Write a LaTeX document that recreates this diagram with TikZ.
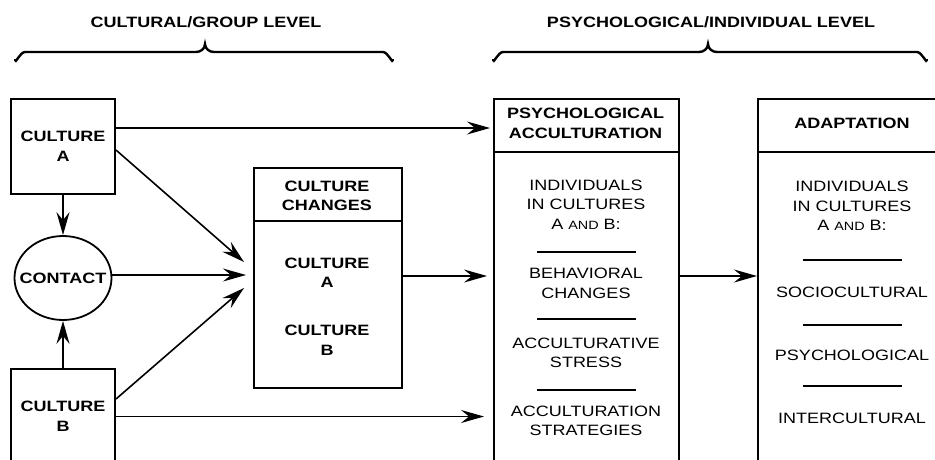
\documentclass[tikz,border=0pt]{standalone}
\usepackage{fontspec}
\setmainfont[FakeStretch=1.2]{Liberation Sans}
\usetikzlibrary{arrows.meta,shapes.geometric}
\tikzset{
  box/.style={draw, line width=2pt, inner sep=0pt, anchor=north west},
  txt/.style={align=center, inner sep=0pt, font=\fontsize{15}{19.5}\selectfont},
  btxt/.style={txt, font=\fontsize{15}{19.5}\selectfont\bfseries},
  ttl/.style={inner sep=0pt, font=\fontsize{15}{19}\selectfont\bfseries},
  arr/.style={line width=1.6pt, -{Stealth[length=23pt,width=13pt,inset=8pt]}},
  sep/.style={line width=1.6pt},
  brace/.style={line width=2.4pt, line cap=round}
}
\newcommand{\smc}[1]{{\fontsize{12}{19.5}\selectfont #1}}
\begin{document}
\begin{tikzpicture}[x=1pt,y=-1pt]
\useasboundingbox (0,0) rectangle (935,459);
\clip (0,0) rectangle (935,459);
% titles and braces
\node[ttl] (t1) at (206,22) {CULTURAL/GROUP LEVEL};
\node[ttl] (t2) at (711,22) {PSYCHOLOGICAL/INDIVIDUAL LEVEL};
\draw[brace] (15,60) to[out=-90,in=180] (25,52) -- (196,52) to[out=0,in=-90] (205,44)
  to[out=-90,in=180] (214,52) -- (383,52) to[out=0,in=-90] (393,60);
\draw[brace] (493,60) to[out=-90,in=180] (503,52) -- (699,52) to[out=0,in=-90] (708,44)
  to[out=-90,in=180] (717,52) -- (917,52) to[out=0,in=-90] (927,60);
% left boxes
\node[box, minimum width=104pt, minimum height=95pt] (ca) at (10,98) {};
\node[btxt] at (ca) {CULTURE\\A};
\node[box, minimum width=104pt, minimum height=95pt] (cb) at (10,368) {};
\node[btxt] at (cb) {CULTURE\\B};
\node[draw, ellipse, line width=1.8pt, minimum width=97pt, minimum height=84pt, inner sep=0pt] (ct) at (63,278) {};
\node[btxt] at (ct) {CONTACT};
% culture changes
\node[box, minimum width=148pt, minimum height=220pt] (cc) at (253,167) {};
\draw[sep] (253,221) -- (401,221);
\node[btxt] at (327,196) {CULTURE\\CHANGES};
\node[btxt] at (327,273) {CULTURE\\A};
\node[btxt] at (327,340.5) {CULTURE\\B};
% psychological acculturation
\node[box, minimum width=185pt, minimum height=380pt] (pa) at (493,98) {};
\draw[sep] (493,152) -- (678,152);
\node[btxt] at (585.5,123.5) {PSYCHOLOGICAL\\ACCULTURATION};
\node[txt] at (586,204.5) {INDIVIDUALS\\IN CULTURES\\A \smc{AND} B:};
\draw[sep] (537,252) -- (636,252);
\node[txt] at (586,283.5) {BEHAVIORAL\\CHANGES};
\draw[sep] (537,319) -- (636,319);
\node[txt] at (586,353) {ACCULTURATIVE\\STRESS};
\draw[sep] (537,390) -- (636,390);
\node[txt] at (586,421) {ACCULTURATION\\STRATEGIES};
% adaptation
\node[box, minimum width=190pt, minimum height=380pt] (ad) at (757,98) {};
\draw[sep] (757,152) -- (947,152);
\node[btxt] at (852,123) {ADAPTATION};
\node[txt] at (852,206) {INDIVIDUALS\\IN CULTURES\\A \smc{AND} B:};
\draw[sep] (803,260) -- (902,260);
\node[txt] at (852,292) {SOCIOCULTURAL};
\draw[sep] (803,325) -- (902,325);
\node[txt] at (852,355) {PSYCHOLOGICAL};
\draw[sep] (803,386) -- (902,386);
\node[txt] at (852,418) {INTERCULTURAL};
% connectors
\coordinate (convA) at (244,262);
\coordinate (convC) at (246,275);
\coordinate (convB) at (244,288);
\draw[arr] (ca.south) -- (ct.north);
\draw[arr] (cb.north) -- (ct.south);
\draw[arr] ([yshift=-3.5pt]ca.east) -- (convA);
\draw[arr] ([yshift=3pt]ct.east) -- (convC);
\draw[arr] ([yshift=17.5pt]cb.east) -- (convB);
\draw[arr] ([yshift=18.5pt]ca.east) -- ([xshift=-3pt,yshift=18.5pt]pa.west |- ca.east);
\draw[arr] (cb.east) -- ([xshift=-9pt]pa.west |- cb.east);
\draw[arr] ([yshift=2pt]cc.east) -- ([xshift=-6pt,yshift=2pt]pa.west |- cc.east);
\draw[arr] ([yshift=2pt]pa.east |- cc.east) -- ([yshift=2pt]ad.west |- cc.east);
\end{tikzpicture}
\end{document}
